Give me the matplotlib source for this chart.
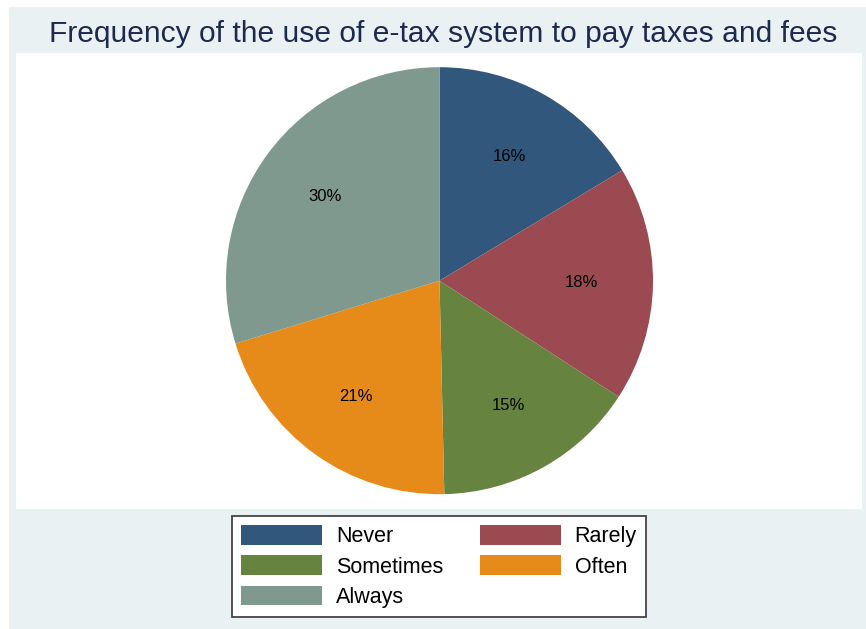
import matplotlib
matplotlib.use("Agg")
import matplotlib.pyplot as plt
from matplotlib.patches import Rectangle, Patch

categories = ["Never", "Rarely", "Sometimes", "Often", "Always"]
shares = [16.35, 17.8, 15.49, 20.6, 29.76]
colors = ["#31587c", "#9a4a50", "#66843f", "#e68b19", "#7f998e"]
title = "Frequency of the use of e-tax system to pay taxes and fees"

plt.rcParams['font.family'] = ['Liberation Sans', 'DejaVu Sans']

W, H = 866, 629
fig = plt.figure(figsize=(W / 100, H / 100), dpi=100)
fig.patch.set_facecolor("white")

def px(x0, y0, x1, y1):
    # pixel box (top-left origin) -> figure fraction (l, b, w, h)
    return (x0 / W, 1 - y1 / H, (x1 - x0) / W, (y1 - y0) / H)

l, b, w, h = px(9, 7, 866, 629)
fig.patches.append(Rectangle((l, b), w, h, transform=fig.transFigure,
                             facecolor="#e9f1f3", edgecolor="none", zorder=-2))
l, b, w, h = px(16, 53, 862, 509)
fig.patches.append(Rectangle((l, b), w, h, transform=fig.transFigure,
                             facecolor="white", edgecolor="none", zorder=-1))

cx, cy, r = 439.5, 280.7, 213.5
ax = fig.add_axes(px(cx - r, cy - r, cx + r, cy + r))
ax.set_zorder(2)
ax.set_facecolor("none")
wedges, texts, autotexts = ax.pie(
    shares, colors=colors, startangle=90, counterclock=False,
    autopct=lambda p: f"{p:.0f}%", pctdistance=0.667,
    wedgeprops=dict(linewidth=0), textprops=dict(color="black", fontsize=12))
ax.set_xlim(-1, 1)
ax.set_ylim(-1, 1)
ax.axis("off")

fig.text(443 / W, 1 - 42 / H, title, ha="center", va="baseline",
         fontsize=21.6, color="#1c2a4f")

handles = [Patch(facecolor=c, edgecolor="none", label=n) for n, c in zip(categories, colors)]
order = [0, 2, 4, 1, 3]
leg = fig.legend([handles[i] for i in order], [categories[i] for i in order],
                 ncol=2, loc="center", bbox_to_anchor=(439 / W, 1 - 566.5 / H),
                 fontsize=15.5, handlelength=3.77, handleheight=1.02,
                 handletextpad=0.65, columnspacing=1.67, labelspacing=0.37,
                 borderpad=0.44, fancybox=False, framealpha=1, edgecolor="#444444")
leg.get_frame().set_linewidth(1.3)
leg.set_zorder(3)

fig.savefig("out.png", dpi=100)
